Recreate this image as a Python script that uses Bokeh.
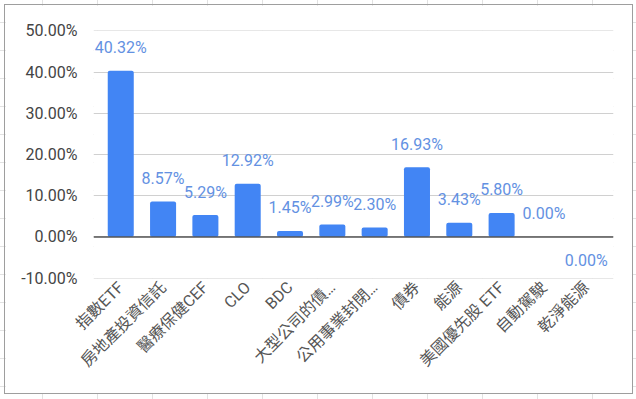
import math
from bokeh.plotting import figure
from bokeh.models import FactorRange, Range1d, Span, PrintfTickFormatter, FixedTicker, ColumnDataSource
from bokeh.layouts import column
from bokeh.core.properties import value
from bokeh.embed import file_html
from bokeh.resources import INLINE

# ---- data ----
categories = ["指數ETF", "房地產投資信託", "醫療保健CEF", "CLO", "BDC", "大型公司的債…",
              "公用事業封閉…", "債券", "能源", "美國優先股 ETF", "自動駕駛", "乾淨能源"]
returns = [40.32, 8.57, 5.29, 12.92, 1.45, 2.99, 2.30, 16.93, 3.43, 5.80, 0.00, -0.001]
value_labels = ["40.32%", "8.57%", "5.29%", "12.92%", "1.45%", "2.99%", "2.30%",
                "16.93%", "3.43%", "5.80%", "0.00%", "0.00%"]
y_ticks = [-10, 0, 10, 20, 30, 40, 50]

FONT = "Roboto, 'Noto Sans CJK TC', sans-serif"
BAR = "#4285F4"
LABEL = "#6391e2"

offsets = [-23 if v >= 0 else 24 for v in returns]
src = ColumnDataSource(dict(cat=categories, val=returns, lab=value_labels, off=offsets))

p = figure(width=627, height=388,
           x_range=FactorRange(factors=categories, range_padding=0.024),
           y_range=Range1d(-10.1, 50.1),
           min_border_left=88, min_border_right=19, min_border_top=25, min_border_bottom=115,
           output_backend="svg", toolbar_location=None, tools="")
p.margin = (5, 0, 0, 5)
p.styles = {"outline": "1px solid #9e9e9e"}
p.outline_line_color = None
p.background_fill_color = "white"
p.border_fill_color = "white"

p.vbar(x="cat", top="val", bottom=0, width=0.615, source=src,
       fill_color=BAR, line_color=None, border_radius=2)

p.text(x="cat", y="val", text="lab", y_offset="off", source=src,
       text_align="center", text_baseline="middle",
       text_font=value(FONT), text_font_size="16px", text_color=LABEL)

p.add_layout(Span(location=0, dimension="width", line_color="#555555", line_width=1.5))

# grid
p.xgrid.grid_line_color = None
p.ygrid.grid_line_color = "#d0d0d0"
p.ygrid.grid_line_width = 1

# y axis
p.yaxis.ticker = FixedTicker(ticks=y_ticks)
p.yaxis.formatter = PrintfTickFormatter(format="%.2f%%")
p.yaxis.axis_line_color = None
p.yaxis.major_tick_line_color = None
p.yaxis.minor_tick_line_color = None
p.yaxis.major_label_standoff = 10
p.yaxis.major_label_text_font = FONT
p.yaxis.major_label_text_font_size = "16px"
p.yaxis.major_label_text_color = "#444444"

# x axis
p.xaxis.axis_line_color = None
p.xaxis.major_tick_line_color = None
p.xaxis.major_tick_out = 0
p.xaxis.major_label_standoff = 6
p.xaxis.major_label_orientation = math.pi / 4
p.xaxis.major_label_text_font = FONT
p.xaxis.major_label_text_font_size = "16px"
p.xaxis.major_label_text_color = "#555555"

root = column(p, width=636, height=399, styles={
    "background-color": "#ffffff",
    "background-image": "linear-gradient(to right, #e2e2e2 1px, transparent 1px), "
                        "linear-gradient(to bottom, #e2e2e2 1px, transparent 1px)",
    "background-size": "55px 28px",
    "background-position": "42px 22px",
})

open("out.html", "w").write(file_html(root, INLINE))
